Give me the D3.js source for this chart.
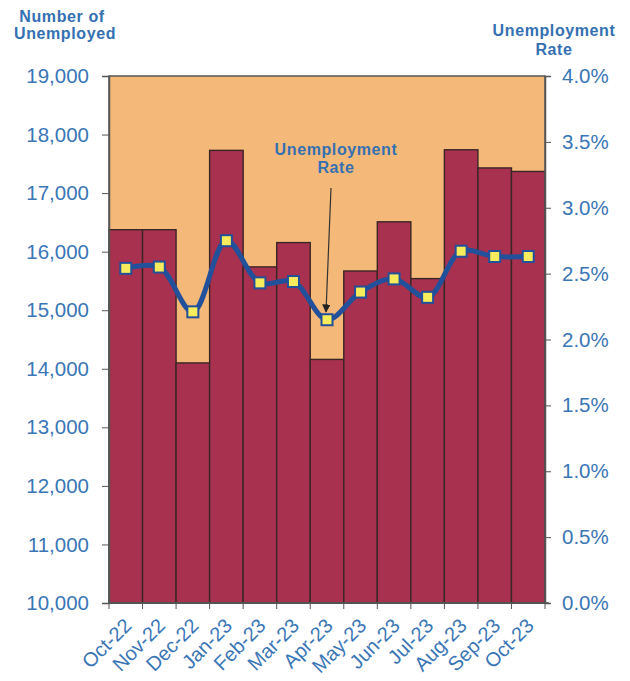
<!DOCTYPE html>
<html><head><meta charset="utf-8">
<script src="https://cdn.jsdelivr.net/npm/d3@7"></script>
<style>
html,body{margin:0;padding:0;background:#fff;}
svg{display:block;}
text{font-family:"Liberation Sans",Arial,sans-serif;}
</style></head>
<body>
<svg id="chart" width="630" height="681"></svg>
<script>
const months = ["Oct-22","Nov-22","Dec-22","Jan-23","Feb-23","Mar-23","Apr-23","May-23","Jun-23","Jul-23","Aug-23","Sep-23","Oct-23"];
const unemployed = [16375,16375,14100,17730,15740,16155,14160,15670,16510,15540,17740,17430,17370];
const rate = [2.54,2.55,2.21,2.75,2.43,2.44,2.15,2.36,2.46,2.32,2.67,2.63,2.63];
const leftTicks = [10000,11000,12000,13000,14000,15000,16000,17000,18000,19000];
const rightTicks = [0,0.5,1,1.5,2,2.5,3,3.5,4];

const svg = d3.select("#chart");
const L = 109, R = 545, T = 76, B = 603;
const blue = "#3a76b6";
const x = d3.scaleBand().domain(months).range([L, R]).padding(0);
const yL = d3.scaleLinear().domain([10000, 19000]).range([B, T]);
const yR = d3.scaleLinear().domain([0, 4]).range([B, T]);

// background
svg.append("rect").attr("x", L).attr("y", T).attr("width", R - L).attr("height", B - T).attr("fill", "#f4b878");

// bars
svg.append("g").selectAll("rect").data(months).join("rect")
  .attr("x", d => x(d))
  .attr("y", (d, i) => yL(unemployed[i]))
  .attr("width", x.bandwidth())
  .attr("height", (d, i) => B - yL(unemployed[i]))
  .attr("fill", "#a7314f")
  .attr("stroke", "#3b2626")
  .attr("stroke-width", 1.4);

// frame
svg.append("rect").attr("x", L).attr("y", T).attr("width", R - L).attr("height", B - T)
  .attr("fill", "none").attr("stroke", "#555").attr("stroke-width", 1.5);

// left axis
const gl = svg.append("g").attr("transform", `translate(${L},0)`)
  .call(d3.axisLeft(yL).tickValues(leftTicks).tickFormat(d3.format(",")).tickSize(7).tickPadding(13));
gl.select(".domain").attr("stroke", "#555").attr("stroke-width", 1.5);
gl.selectAll(".tick line").attr("stroke", "#555");
gl.selectAll(".tick text").attr("fill", blue).attr("font-size", 20.5).attr("font-family", "Liberation Sans, Arial, sans-serif");

// right axis
const gr = svg.append("g").attr("transform", `translate(${R},0)`)
  .call(d3.axisRight(yR).tickValues(rightTicks).tickFormat(d => d.toFixed(1) + "%").tickSize(6).tickPadding(11));
gr.select(".domain").attr("stroke", "#555").attr("stroke-width", 1.5);
gr.selectAll(".tick line").attr("stroke", "#555");
gr.selectAll(".tick text").attr("fill", blue).attr("font-size", 20.5).attr("font-family", "Liberation Sans, Arial, sans-serif");

// bottom axis: ticks at band boundaries
const gb = svg.append("g");
gb.append("line").attr("x1", L).attr("x2", R + 4).attr("y1", B).attr("y2", B).attr("stroke", "#555").attr("stroke-width", 1.5);
gb.selectAll("line.tk").data(months.concat(["end"])).join("line").attr("class", "tk")
  .attr("x1", (d, i) => i < months.length ? x(d) : R)
  .attr("x2", (d, i) => i < months.length ? x(d) : R)
  .attr("y1", B).attr("y2", B + 6).attr("stroke", "#555");
gb.selectAll("text").data(months).join("text")
  .attr("transform", d => `translate(${x(d) + x.bandwidth() / 2 + 7},${B + 24}) rotate(-45)`)
  .attr("text-anchor", "end").attr("fill", blue).attr("font-size", 20)
  .text(d => d);

// line
const line = d3.line().x((d, i) => x(months[i]) + x.bandwidth() / 2).y(d => yR(d)).curve(d3.curveCatmullRom.alpha(0.5));
svg.append("path").datum(rate).attr("d", line).attr("fill", "none").attr("stroke", "#22509a").attr("stroke-width", 5);
svg.append("g").selectAll("rect").data(rate).join("rect")
  .attr("x", (d, i) => x(months[i]) + x.bandwidth() / 2 - 5.5)
  .attr("y", d => yR(d) - 5.5)
  .attr("width", 11).attr("height", 11)
  .attr("fill", "#f6ec5c").attr("stroke", "#22509a").attr("stroke-width", 2);

// titles
const titleStyle = s => s.attr("fill", "#3470b2").attr("font-size", 16).attr("font-weight", "bold").attr("letter-spacing", "0.6").attr("text-anchor", "middle");
svg.append("text").attr("x", 62).attr("y", 22).text("Number of").call(titleStyle);
svg.append("text").attr("x", 65).attr("y", 39).text("Unemployed").call(titleStyle);
svg.append("text").attr("x", 554).attr("y", 36).text("Unemployment").call(titleStyle);
svg.append("text").attr("x", 554).attr("y", 55).text("Rate").call(titleStyle);

// annotation
svg.append("text").attr("x", 336).attr("y", 155).text("Unemployment").call(titleStyle);
svg.append("text").attr("x", 336).attr("y", 173).text("Rate").call(titleStyle);
svg.append("defs").append("marker").attr("id", "ah").attr("viewBox", "0 0 10 10").attr("refX", 9).attr("refY", 5)
  .attr("markerWidth", 7).attr("markerHeight", 7).attr("orient", "auto")
  .append("path").attr("d", "M0,0 L10,5 L0,10 z").attr("fill", "#222");
svg.append("line").attr("x1", 331).attr("y1", 188).attr("x2", 326).attr("y2", 312)
  .attr("stroke", "#333").attr("stroke-width", 1.2).attr("marker-end", "url(#ah)");
</script>
</body></html>
